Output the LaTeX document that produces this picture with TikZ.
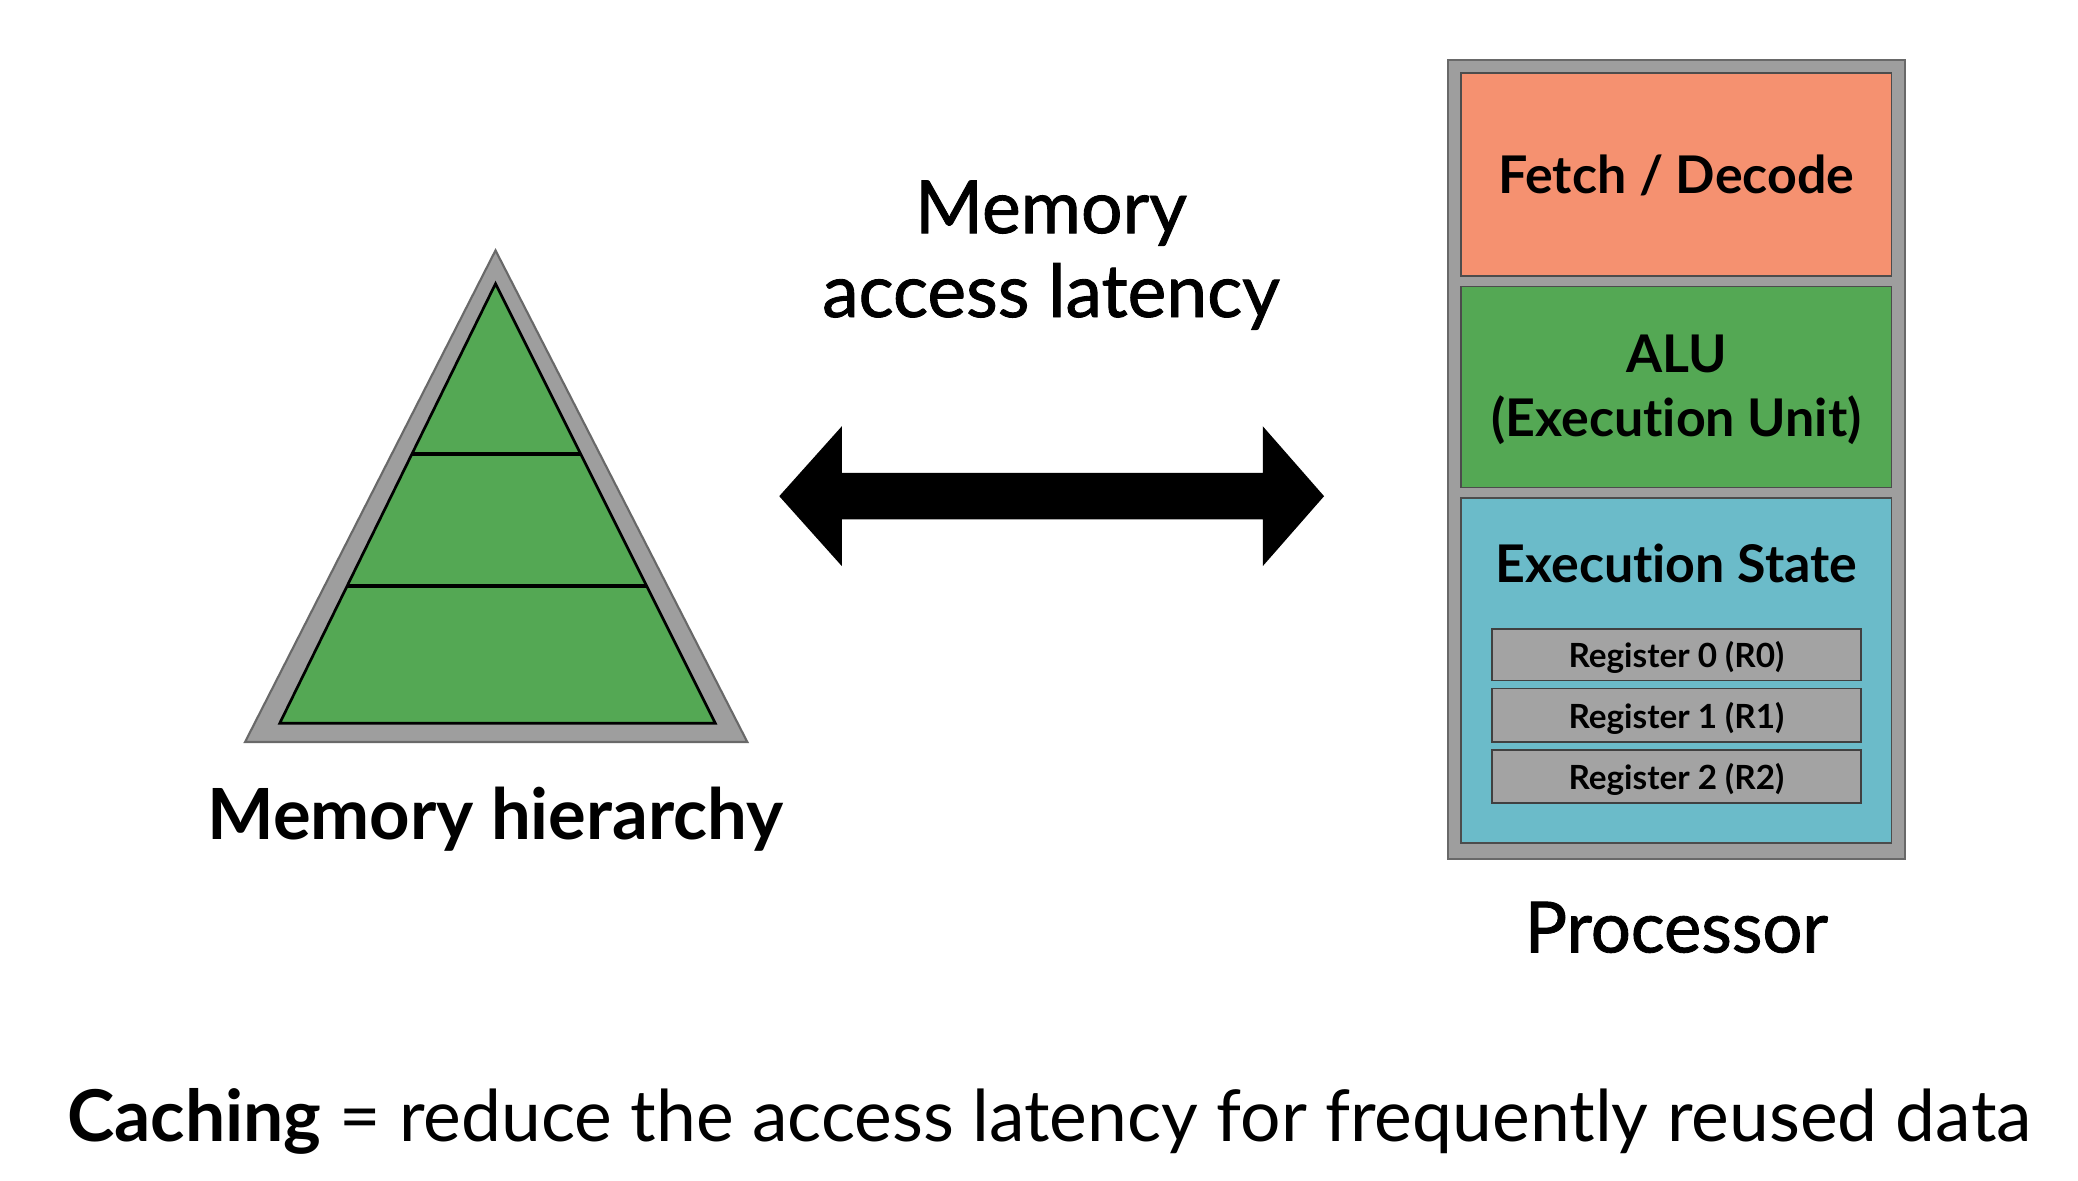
\documentclass[tikz,border=0pt]{standalone}
\usepackage{fontspec}
\setmainfont{Lato}[Ligatures=NoCommon]
\newfontfamily\medfont{Lato}[Ligatures=NoCommon, FakeBold=1.2]
\definecolor{framegray}{RGB}{158,158,158}
\definecolor{framedark}{RGB}{105,105,105}
\definecolor{memgreen}{RGB}{84,168,84}
\definecolor{fetchsalmon}{RGB}{245,145,112}
\definecolor{stateteal}{RGB}{107,187,201}
\definecolor{reggray}{RGB}{163,163,163}
\tikzset{
  frame/.style={draw=framedark, fill=framegray, line width=0.8pt, inner sep=0pt},
  unitbox/.style={draw=black!70, line width=0.6pt, inner sep=0pt, minimum width=161.5pt},
  regbox/.style={draw=black!75, fill=reggray, line width=0.6pt, inner sep=0pt, minimum width=138.5pt},
  lbl/.style={inner sep=0pt, anchor=base, text=black},
  big/.style={font=\bfseries\fontsize{26.5}{30}\selectfont},
  mid/.style={font=\bfseries\fontsize{19.5}{23}\selectfont},
  small/.style={font=\bfseries\fontsize{12.5}{15}\selectfont},
}
\begin{document}
\begin{tikzpicture}[x=0.5pt,y=-0.5pt]
\useasboundingbox (0,0) rectangle (1560,886);
\fill[white] (0,0) rectangle (1560,886);

% memory hierarchy pyramid
\coordinate (tA) at (372,188);
\coordinate (tL) at (184,557);
\coordinate (tR) at (561,557);
\coordinate (gA) at (372,213);
\coordinate (gL) at (210,543);
\coordinate (gR) at (537,543);
\filldraw[fill=framegray, draw=framedark, line width=0.8pt, line join=miter] (tA) -- (tL) -- (tR) -- cycle;
\filldraw[fill=memgreen, draw=black, line width=1pt, line join=miter] (gA) -- (gL) -- (gR) -- cycle;
\coordinate (l1a) at (309,341);
\coordinate (l1b) at (436,341);
\coordinate (l2a) at (261,440);
\coordinate (l2b) at (485,440);
\draw[line width=1.4pt] (l1a) -- (l1b);
\draw[line width=1.4pt] (l2a) -- (l2b);
\node[lbl, big] (memh) at (372,630) {Memory hierarchy};

% latency label and double arrow
\node[lbl, font=\medfont\fontsize{27.5}{31}\selectfont] (lat1) at (789,175) {Memory};
\node[lbl, font=\medfont\fontsize{27.5}{31}\selectfont] (lat2) at (789,238) {access latency};
\coordinate (aL) at (585,372.5);
\coordinate (aR) at (994,372.5);
\fill[black] (aL) -- (632,320) -- (632,355) -- (948,355) -- (948,320) -- (aR)
  -- (948,425) -- (948,390) -- (632,390) -- (632,425) -- cycle;

% processor
\node[frame, minimum width=171.5pt, minimum height=300pt] (proc) at (1258.5,345) {};
\node[unitbox, fill=fetchsalmon, minimum height=76pt] (fetch) at (1258.5,131) {};
\node[unitbox, fill=memgreen, minimum height=75.5pt] (alu) at (1258.5,290.5) {};
\node[unitbox, fill=stateteal, minimum height=129.5pt] (state) at (1258.5,503.5) {};
\node[regbox, minimum height=19.5pt] (r0) at (1258.5,491.5) {};
\node[regbox, minimum height=20pt] (r1) at (1258.5,537) {};
\node[regbox, minimum height=20pt] (r2) at (1258.5,583) {};

\node[lbl, mid] (tfetch) at (1258.5,145) {Fetch / Decode};
\node[lbl, mid] (talu1) at (1258.5,280) {ALU};
\node[lbl, mid] (talu2) at (1258.5,328) {(Execution Unit)};
\node[lbl, mid] (tstate) at (1258.5,437) {Execution State};
\node[lbl, small] (tr0) at (1258.5,501) {Register 0 (R0)};
\node[lbl, small] (tr1) at (1258.5,547) {Register 1 (R1)};
\node[lbl, small] (tr2) at (1258.5,593) {Register 2 (R2)};
\node[lbl, font=\medfont\fontsize{26.5}{30}\selectfont] (tproc) at (1258.5,715) {Processor};

% caption
\node[inner sep=0pt, anchor=base west, font=\fontsize{26.8}{31}\selectfont] (cap) at (50,857)
  {\textbf{Caching} = reduce the access latency for frequently reused data};
\end{tikzpicture}
\end{document}
